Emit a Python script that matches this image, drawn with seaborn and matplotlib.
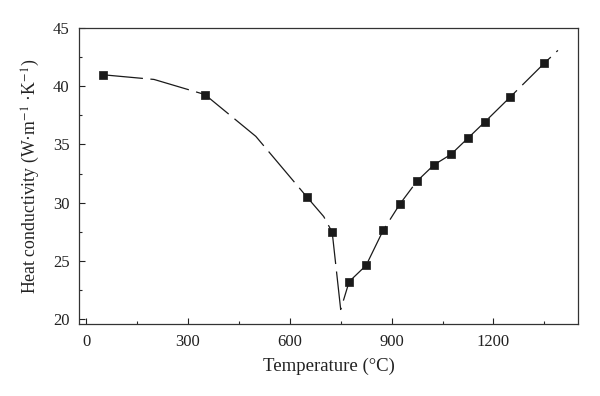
import numpy as np
import pandas as pd
import matplotlib
matplotlib.use("Agg")
import matplotlib.pyplot as plt
import seaborn as sns
from matplotlib.ticker import MultipleLocator

# DATA
# measured points (square markers)
temp_meas = [50, 350, 650, 725, 775, 825, 875, 925, 975, 1025, 1075, 1125, 1175, 1250, 1350]
k_meas = [41.0, 39.3, 30.5, 27.45, 23.2, 24.6, 27.6, 29.9, 31.85, 33.25, 34.15, 35.55, 36.95, 39.1, 42.0]

# fitted curve through the points (extra vertices carry no marker)
temp_curve = [50, 200, 350, 500, 650, 700, 725, 750, 775, 825, 875, 925, 975, 1025, 1075, 1125, 1175, 1250, 1350, 1390]
k_curve = [41.0, 40.6, 39.3, 35.7, 30.5, 28.8, 27.45, 20.8, 23.2, 24.6, 27.6, 29.9, 31.85, 33.25, 34.15, 35.55, 36.95, 39.1, 42.0, 43.1]

x_ticks = [0, 300, 600, 900, 1200]
y_ticks = [20, 25, 30, 35, 40, 45]

df_curve = pd.DataFrame({"Temperature": temp_curve, "K": k_curve})
df_meas = pd.DataFrame({"Temperature": temp_meas, "K": k_meas})

# STYLE
sns.set_style("ticks")
plt.rcParams["font.family"] = ["Liberation Serif", "DejaVu Serif"]
plt.rcParams["mathtext.fontset"] = "stix"

fig = plt.figure(figsize=(6.0, 3.96), dpi=100)
ax = fig.add_axes([0.1322, 0.1818, 0.8316, 0.7467])

# PLOT
sns.lineplot(data=df_curve, x="Temperature", y="K", ax=ax, color="#1a1a1a",
             linewidth=0.9, estimator=None, sort=False)
ax.lines[0].set_dashes([32, 6])
sns.scatterplot(data=df_meas, x="Temperature", y="K", ax=ax, marker="s",
                s=28, color="#1a1a1a", edgecolor="#1a1a1a", linewidth=0.5, zorder=3)

# AXES
ax.set_xlim(-20, 1450)
ax.set_ylim(19.55, 45)
ax.set_xticks(x_ticks)
ax.set_yticks(y_ticks)
ax.xaxis.set_minor_locator(MultipleLocator(150))
ax.yaxis.set_minor_locator(MultipleLocator(2.5))
ax.tick_params(axis="both", which="major", direction="in", length=4, width=0.8,
               labelsize=12, colors="#222222", pad=7)
ax.tick_params(axis="both", which="minor", direction="in", length=2, width=0.8)

for sp in ax.spines.values():
    sp.set_visible(True)
    sp.set_linewidth(0.9)
    sp.set_color("#333333")

ax.set_xlabel("Temperature (°C)", fontsize=13.5, color="#222222", labelpad=6)
ax.set_ylabel(r"Heat conductivity (W·m$^{-1}$ ·K$^{-1}$)", fontsize=12.8,
              color="#222222", labelpad=8)

plt.savefig("out.png", dpi=100)
plt.close()
